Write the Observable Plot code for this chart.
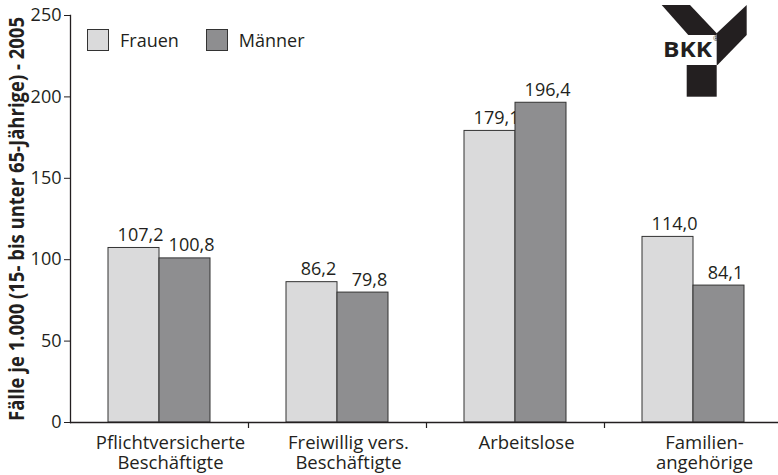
<!DOCTYPE html>
<html>
<head>
<meta charset="utf-8">
<script src="https://cdn.jsdelivr.net/npm/d3@7"></script>
<script src="https://cdn.jsdelivr.net/npm/@observablehq/plot@0.6"></script>
<style>
  html, body { margin: 0; padding: 0; background: #fff; }
  #wrap { position: relative; width: 778px; height: 475px; font-family: "Open Sans", sans-serif; color: #231f20; }
  #legend { position: absolute; left: 87px; top: 29px; display: flex; align-items: center; font-size: 18px; }
  #legend .sw { width: 20px; height: 20px; border: 1.2px solid #333; box-sizing: content-box; }
  #legend .lab { margin-left: 11px; margin-right: 27px; line-height: 22px; }
  #logo { position: absolute; left: 655px; top: 0; }
</style>
</head>
<body>
<div id="wrap">
  <div id="chart"></div>
  <div id="legend"></div>
  <svg id="logo" width="100" height="100" viewBox="655 0 100 100">
    <polygon points="661.7,5 690,5 716.7,33.3 716.7,35 688.3,35" fill="#231f20"/>
    <polygon points="716.7,33.3 746.7,5 746.7,35 717.5,65 716.7,65" fill="#231f20"/>
    <rect x="686.7" y="65" width="30" height="31.7" fill="#231f20"/>
    <text x="663" y="57" font-family="Open Sans" font-weight="bold" font-size="21" textLength="49" lengthAdjust="spacingAndGlyphs" fill="#231f20">BKK</text>
    <text x="713" y="41" font-family="Open Sans" font-size="7" fill="#231f20">®</text>
  </svg>
</div>
<script>
const categories = ["Pflichtversicherte\nBeschäftigte", "Freiwillig vers.\nBeschäftigte", "Arbeitslose", "Familien-\nangehörige"];
const series = ["Frauen", "Männer"];
const frauen = [107.2, 86.2, 179.1, 114.0];
const maenner = [100.8, 79.8, 196.4, 84.1];
const yTicks = [0, 50, 100, 150, 200, 250];
const yLabel = "Fälle je 1.000 (15- bis unter 65-Jährige) - 2005";
const colors = ["#dadadb", "#8e8e90"];

const fmt = v => v.toFixed(1).replace(".", ",");
const rows = (vals) => vals.map((v, i) => ({cat: categories[i], value: v}));

const ink = "#231f20";
const chart = Plot.plot({
  width: 778,
  height: 475,
  marginLeft: 70,
  marginRight: -4,
  marginTop: 15,
  marginBottom: 53,
  style: {fontFamily: "Open Sans", fontSize: "18px", color: ink, background: "white", overflow: "hidden"},
  x: {domain: categories, padding: 0, axis: null},
  y: {domain: [0, 250], axis: null},
  marks: [
    Plot.barY(rows(frauen), {x: "cat", y: "value", fill: colors[0], stroke: "#333", strokeWidth: 1, insetLeft: 38, insetRight: 89}),
    Plot.text(rows(frauen), {x: "cat", y: "value", text: d => fmt(d.value), dx: -19, dy: -7, lineAnchor: "bottom", fill: ink, fontSize: 18}),
    Plot.barY(rows(maenner), {x: "cat", y: "value", fill: colors[1], stroke: "#333", strokeWidth: 1, insetLeft: 89, insetRight: 38}),
    Plot.text(rows(maenner), {x: "cat", y: "value", text: d => fmt(d.value), dx: 32, dy: -7, lineAnchor: "bottom", fill: ink, fontSize: 18}),
    Plot.ruleY([0], {stroke: ink, strokeWidth: 1.3}),
    Plot.frame({anchor: "left", stroke: ink, strokeWidth: 1.3}),
    Plot.axisY({ticks: yTicks, tickSize: 6, tickPadding: 3, label: null, fontSize: 18, stroke: ink, fill: ink}),
    Plot.text(categories, {x: d => d, frameAnchor: "bottom", lineAnchor: "top", dy: 12, dx: 11, lineHeight: 1.1, fontSize: 18.5, fill: ink}),
    Plot.ruleX(categories.slice(1), {x: d => d, dx: -89, y1: 0, y2: -3.7, stroke: ink, strokeWidth: 1.2}),
    Plot.text([yLabel], {frameAnchor: "left", textAnchor: "middle", rotate: -90, dx: -53, dy: 0, fontWeight: "bold", fontSize: 21.5, fill: ink})
  ]
});
document.getElementById("chart").appendChild(chart);

// the reference uses a condensed bold face for the axis title: compress it to its length
chart.querySelectorAll("text").forEach(t => {
  if (t.textContent === yLabel) {
    t.setAttribute("textLength", 404);
    t.setAttribute("lengthAdjust", "spacingAndGlyphs");
  }
});

const legend = document.getElementById("legend");
series.forEach((s, i) => {
  const sw = document.createElement("div");
  sw.className = "sw";
  sw.style.background = colors[i];
  const lab = document.createElement("span");
  lab.className = "lab";
  lab.textContent = s;
  legend.appendChild(sw);
  legend.appendChild(lab);
});
</script>
</body>
</html>
